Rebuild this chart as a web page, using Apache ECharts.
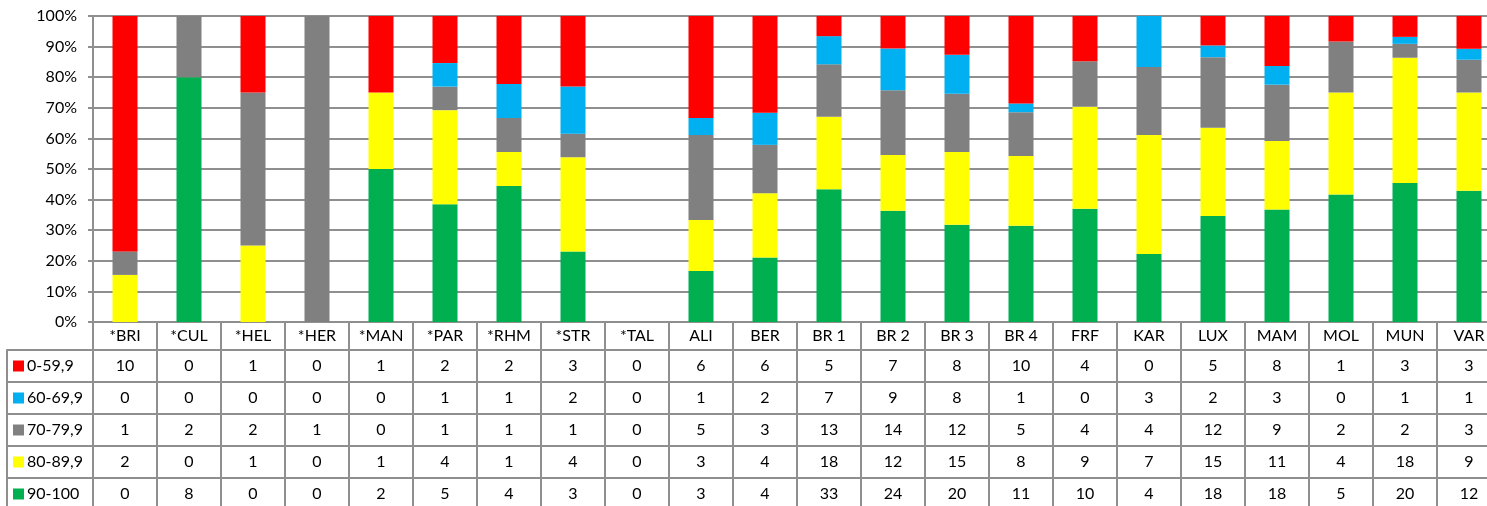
<!DOCTYPE html>
<html>
<head>
<meta charset="utf-8">
<script src="https://cdn.jsdelivr.net/npm/echarts@6/dist/echarts.min.js"></script>
<style>
  html, body { margin: 0; padding: 0; background: #fff; }
  #chart { width: 1487px; height: 506px; }
</style>
</head>
<body>
<div id="chart"></div>
<script>
// Sites (columns of the data table)
const categories = ['*BRI','*CUL','*HEL','*HER','*MAN','*PAR','*RHM','*STR','*TAL','ALI','BER',
                    'BR 1','BR 2','BR 3','BR 4','FRF','KAR','LUX','MAM','MOL','MUN','VAR'];

// Score bands, in table-row order (top to bottom)
const bandNames  = ['0-59,9', '60-69,9', '70-79,9', '80-89,9', '90-100'];
const bandColors = ['#FF0000', '#00B0F0', '#808080', '#FFFF00', '#00B050'];

// Counts per band and site
const count0to59   = [10,0,1,0,1,2,2,3,0,6,6,5,7,8,10,4,0,5,8,1,3,3];
const count60to69  = [0,0,0,0,0,1,1,2,0,1,2,7,9,8,1,0,3,2,3,0,1,1];
const count70to79  = [1,2,2,1,0,1,1,1,0,5,3,13,14,12,5,4,4,12,9,2,2,3];
const count80to89  = [2,0,1,0,1,4,1,4,0,3,4,18,12,15,8,9,7,15,11,4,18,9];
const count90to100 = [0,8,0,0,2,5,4,3,0,3,4,33,24,20,11,10,4,18,18,5,20,12];

const bandCounts = [count0to59, count60to69, count70to79, count80to89, count90to100];

// Percent axis ticks
const yMin = 0, yMax = 100, yStep = 10;

const FONT = 'Lato, "Open Sans", sans-serif';
const FS = 16;
const LINE = '#8f8f8f';
const LW = 2;

// Column totals -> share of each band in percent
const totals = categories.map((_, i) => bandCounts.reduce((s, arr) => s + arr[i], 0));
const shares = bandCounts.map(arr => arr.map((v, i) => totals[i] ? v / totals[i] * 100 : 0));

// Table geometry: header row then one row per band
const headerH = 28, rowH = 32;
const rowOffsets = bandNames.map((_, k) => headerH + k * rowH);

const xAxes = [];
const yAxes = [];

// Plot grid (0) and the legend column of the table (1)
const grids = [
  { left: 93, right: -14, top: 16, bottom: 184, containLabel: false, outerBoundsMode: 'none' },
  { left: 7, width: 86, top: 16, bottom: 184, containLabel: false, outerBoundsMode: 'none' }
];

const lineStyle = { color: LINE, width: LW };

// Category header row
xAxes.push({
  type: 'category', gridIndex: 0, position: 'bottom', offset: 0,
  data: categories,
  axisLine: { show: true, onZero: false, lineStyle },
  axisTick: { show: true, interval: 0, length: headerH, lineStyle },
  axisLabel: { interval: 0, margin: 0, fontFamily: FONT, fontSize: FS, color: '#000', lineHeight: headerH }
});

// One table row per band: the counts
bandNames.forEach((name, k) => {
  xAxes.push({
    type: 'category', gridIndex: 0, position: 'bottom', offset: rowOffsets[k],
    data: bandCounts[k].map(String),
    axisLine: { show: true, onZero: false, lineStyle },
    axisTick: { show: true, interval: 0, length: rowH, lineStyle },
    axisLabel: { interval: 0, margin: 0, fontFamily: FONT, fontSize: FS, color: '#000', lineHeight: rowH }
  });
});

// Legend column cells: colour key + band name
bandNames.forEach((name, k) => {
  xAxes.push({
    type: 'category', gridIndex: 1, position: 'bottom', offset: rowOffsets[k],
    data: [name],
    axisLine: { show: true, onZero: false, lineStyle },
    axisTick: { show: true, interval: 0, length: rowH, lineStyle },
    axisLabel: {
      interval: 0, margin: 0, width: 74, overflow: 'none',
      fontFamily: FONT, fontSize: FS, color: '#000', lineHeight: rowH,
      formatter: v => '{sq|}{t|' + v + '}',
      rich: {
        sq: { width: 11, height: 11, backgroundColor: bandColors[k], align: 'left' },
        t: { fontFamily: FONT, fontSize: FS, color: '#000', padding: [0, 0, 0, 3], align: 'left', lineHeight: rowH }
      }
    }
  });
});

yAxes.push({
  type: 'value', gridIndex: 0, min: yMin, max: yMax, interval: yStep,
  axisLine: { show: true, onZero: false, lineStyle },
  axisTick: { show: true, length: 5, lineStyle },
  axisLabel: { formatter: '{value}%', margin: 16, fontFamily: FONT, fontSize: FS, color: '#000' },
  splitLine: { show: true, lineStyle }
});
yAxes.push({ type: 'value', gridIndex: 1, show: false, min: 0, max: 1 });

// Stack from the bottom: highest band first
const series = [];
for (let k = bandNames.length - 1; k >= 0; k--) {
  series.push({
    name: bandNames[k], type: 'bar', stack: 'share',
    xAxisIndex: 0, yAxisIndex: 0,
    barWidth: 25,
    itemStyle: { color: bandColors[k] },
    data: shares[k]
  });
}

const chart = echarts.init(document.getElementById('chart'), null, { renderer: 'canvas' });
chart.setOption({
  animation: false,
  backgroundColor: '#fff',
  grid: grids,
  xAxis: xAxes,
  yAxis: yAxes,
  series: series
});
</script>
</body>
</html>
